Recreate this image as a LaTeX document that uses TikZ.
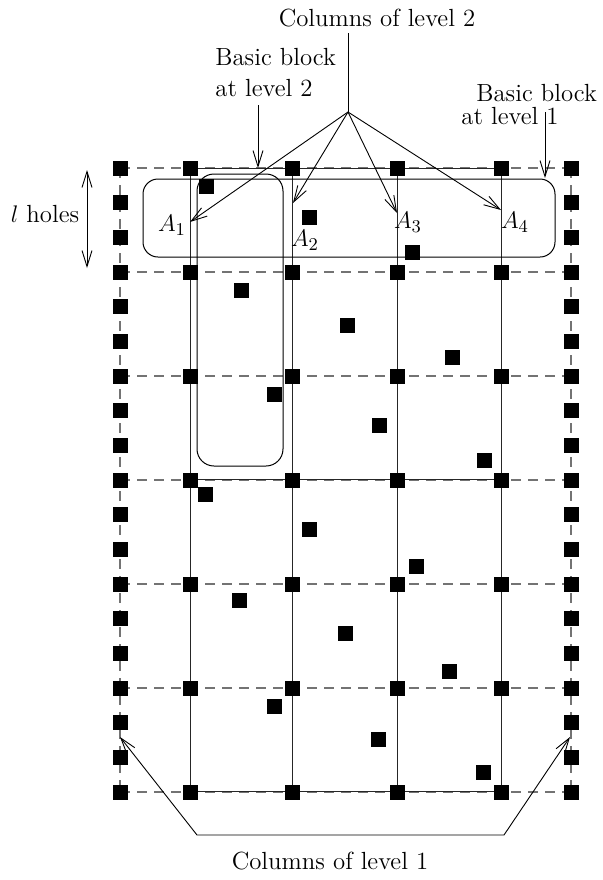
\documentclass[tikz,border=0pt]{standalone}
\usetikzlibrary{arrows.meta}
\begin{document}
\begin{tikzpicture}[x=0.5pt,y=-0.5pt,
  sq/.style={fill=black,draw=none,minimum size=7.5pt,inner sep=0pt,outer sep=0pt},
  gridline/.style={draw=black!55,dash pattern=on 5pt off 3.5pt,line width=0.6pt},
  colline/.style={draw=black!85,line width=0.5pt},
  blockbox/.style={draw=black,line width=0.5pt},
  ptr/.style={draw=black,line width=0.45pt,-{Straight Barb[length=8pt,width=5pt]}},
  dptr/.style={draw=black,line width=0.45pt,{Straight Barb[length=8pt,width=5pt]}-{Straight Barb[length=8pt,width=5pt]}},
  lbl/.style={font=\fontsize{12.4}{14.5}\selectfont,inner sep=0pt},
]
\useasboundingbox (0,0) rectangle (603,880);

% dashed grid
\foreach \j in {0,...,6}
  \draw[gridline] (120,{168+104*\j}) -- (571,{168+104*\j});
\draw[gridline] (120,168) -- (120,790);
\draw[gridline] (571,168) -- (571,790);

% solid columns of level 2
\foreach \x in {190,292,397,501}
  \draw[colline] (\x,168) -- (\x,790);
\foreach \y in {168,479,791}
  \draw[colline] (190,\y) -- (501,\y);

% basic blocks
\draw[blockbox,rounded corners=7.5pt] (143,179) rectangle (555,257);
\draw[blockbox,rounded corners=8.5pt] (197,174) rectangle (283,466);

% grid squares
\foreach \x [count=\i] in {120,190,292,397,501,571}
  \foreach \j in {0,...,6}
    \node[sq] (g\i-\j) at (\x,{168+104*\j}) {};
% side squares (level 1 columns)
\foreach \k in {1,2,4,5,7,8,10,11,13,14,16,17}{
  \node[sq] (l\k) at (120,{168+104*\k/3}) {};
  \node[sq] (r\k) at (571,{168+104*\k/3}) {};
}
% scattered squares
\foreach \x/\y [count=\n] in {206/186,309/217,412/252,241/290,347/325,452/357,
  274/394,379/425,484/460,205/494,309/529,416/566,239/600,345/633,449/671,
  274/706,378/739,483/772}
  \node[sq] (s\n) at (\x,\y) {};

% labels A_i
\node[lbl] (A1) at (172,225) {$A_1$};
\node[lbl] (A2) at (305,240) {$A_2$};
\node[lbl] (A3) at (408,222) {$A_3$};
\node[lbl] (A4) at (515,222) {$A_4$};

% columns of level 2
\node[lbl] (c2) at (377,18) {Columns of level 2};
\coordinate (c2top) at (348,33);
\coordinate (hub) at (348,112);
\coordinate (t1) at (190,222);
\coordinate (t2) at (293,203);
\coordinate (t3) at (397,213);
\coordinate (t4) at (501,210);
\draw[colline,draw=black] (c2top) -- (hub);
\foreach \t in {t1,t2,t3,t4}
  \draw[ptr] (hub) -- (\t);

% basic block at level 2
\node[lbl,anchor=base west] (bb2a) at (215,65) {Basic block};
\node[lbl,anchor=base west] (bb2b) at (215,96) {at level 2};
\coordinate (bb2s) at (258,105);
\coordinate (bb2e) at (258,168);
\draw[ptr] (bb2s) -- (bb2e);

% basic block at level 1
\node[lbl,anchor=base west] (bb1a) at (476,101) {Basic block};
\node[lbl,anchor=base west] (bb1b) at (461,124) {at level 1};
\coordinate (bb1s) at (545,112);
\coordinate (bb1e) at (545,178);
\draw[ptr] (bb1s) -- (bb1e);

% l holes
\node[lbl] (lh) at (45,214) {$l$ holes};
\coordinate (lht) at (87,170);
\coordinate (lhb) at (87,268);
\draw[dptr] (lht) -- (lhb);

% columns of level 1
\node[lbl] (c1) at (330,861) {Columns of level 1};
\coordinate (cl) at (120,737);
\coordinate (cr) at (570,737);
\coordinate (bl) at (197,835);
\coordinate (br) at (504,835);
\draw[dptr] (cl) -- (bl) -- (br) -- (cr);

\end{tikzpicture}
\end{document}
